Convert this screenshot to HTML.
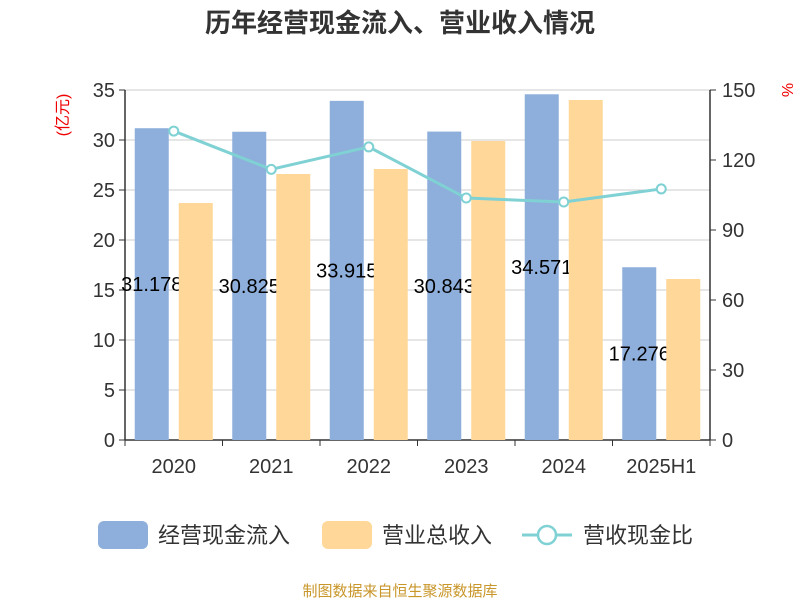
<!DOCTYPE html>
<html><head><meta charset="utf-8"><style>
body{margin:0;background:#fff;}
svg text{font-family:"Liberation Sans","Noto Sans CJK SC",sans-serif;}
</style></head><body>
<svg width="800" height="600" id="c">
<text x="400" y="32" text-anchor="middle" font-size="26" font-weight="bold" fill="#333">历年经营现金流入、营业收入情况</text>
<text transform="translate(68,115) rotate(-90)" text-anchor="middle" font-size="16" fill="#e00">(亿元)</text>
<text transform="translate(782,90) rotate(90)" text-anchor="middle" font-size="16" fill="#e00">%</text>
<g id="plot"></g>
<g>
<rect x="98" y="521" width="50" height="28" rx="6" fill="#8eaedb"/>
<text x="158" y="543" font-size="22" fill="#333">经营现金流入</text>
<rect x="322" y="521" width="50" height="28" rx="6" fill="#ffd899"/>
<text x="382" y="543" font-size="22" fill="#333">营业总收入</text>
<line x1="522" y1="535" x2="572" y2="535" stroke="#7fd1d4" stroke-width="3"/>
<circle cx="547" cy="535" r="9" fill="#fff" stroke="#7fd1d4" stroke-width="2.5"/>
<text x="583" y="543" font-size="22" fill="#333">营收现金比</text>
</g>
<text x="400" y="596" text-anchor="middle" font-size="15" fill="#c9962a">制图数据来自恒生聚源数据库</text>
</svg>
<script>
const categories=["2020","2021","2022","2023","2024","2025H1"];
const inflow=[31.178,30.825,33.915,30.843,34.571,17.276];
const inflowLabels=["31.178","30.825","33.915","30.843","34.571","17.276"];
const revenue=[23.7,26.6,27.1,29.9,34.0,16.1];
const ratio=[132.4,116,125.6,103.7,102,107.6];
const leftTicks=[0,5,10,15,20,25,30,35];
const rightTicks=[0,30,60,90,120,150];
const NS="http://www.w3.org/2000/svg";
const g=document.getElementById('plot');
const X0=125,X1=710,Y0=440,Y1=90;
const band=(X1-X0)/categories.length;
const yL=v=>Y0-(v/35)*(Y0-Y1);
const yR=v=>Y0-(v/150)*(Y0-Y1);
function mk(t,a,name,inter){const e=document.createElementNS(NS,t);for(const k in a)e.setAttribute(k,a[k]);


g.appendChild(e);return e;}
leftTicks.forEach(v=>{
 mk('line',{x1:X0,x2:X1,y1:yL(v),y2:yL(v),stroke:v===0?'#333':'#ccc','stroke-width':v===0?1.5:1},'gridline','false');
 mk('line',{x1:X0-6,x2:X0,y1:yL(v),y2:yL(v),stroke:'#333'},'left-tick','false');
 const t=mk('text',{x:X0-10,y:yL(v)+7,'text-anchor':'end','font-size':20,fill:'#333'},'left-tick-label','false');t.textContent=v;
});
rightTicks.forEach(v=>{
 mk('line',{x1:X1,x2:X1+6,y1:yR(v),y2:yR(v),stroke:'#333'},'right-tick','false');
 const t=mk('text',{x:X1+12,y:yR(v)+7,'font-size':20,fill:'#333'},'right-tick-label','false');t.textContent=v;
});
mk('line',{x1:X0,x2:X0,y1:Y1,y2:Y0,stroke:'#333','stroke-width':1.5},'left-axis','false');
mk('line',{x1:X1,x2:X1,y1:Y1,y2:Y0,stroke:'#333','stroke-width':1.5},'right-axis','false');
categories.forEach((c,i)=>{
 const cx=X0+band*(i+0.5);
 mk('line',{x1:X0+band*i,x2:X0+band*i,y1:Y0,y2:Y0+6,stroke:'#333'},'x-tick','false');
 const t=mk('text',{x:cx,y:Y0+33,'text-anchor':'middle','font-size':20,fill:'#333'},'x-tick-label','false');t.textContent=c;
 mk('rect',{x:cx-39,y:yL(inflow[i]),width:34,height:Y0-yL(inflow[i]),fill:'#8eaedb'},'bar-inflow-'+c,'true');
});
mk('line',{x1:X1,x2:X1,y1:Y0,y2:Y0+6,stroke:'#333'},'x-tick','false');
categories.forEach((c,i)=>{
 const cx=X0+band*(i+0.5);
 const t=mk('text',{x:cx-22,y:(yL(inflow[i])+Y0)/2+7,'text-anchor':'middle','font-size':20,fill:'#000'},'value-label-inflow','false');t.textContent=inflowLabels[i];
});
categories.forEach((c,i)=>{
 const cx=X0+band*(i+0.5);
 mk('rect',{x:cx+5,y:yL(revenue[i]),width:34,height:Y0-yL(revenue[i]),fill:'#ffd899'},'bar-revenue-'+c,'true');
});
const pts=ratio.map((v,i)=>(X0+band*(i+0.5))+','+yR(v)).join(' ');
mk('polyline',{points:pts,fill:'none',stroke:'#7fd1d4','stroke-width':3},'line-ratio','true');
ratio.forEach((v,i)=>{
 mk('circle',{cx:X0+band*(i+0.5),cy:yR(v),r:4.5,fill:'#fff',stroke:'#7fd1d4','stroke-width':2},'point-ratio-'+categories[i],'true');
});
</script>
</body></html>
